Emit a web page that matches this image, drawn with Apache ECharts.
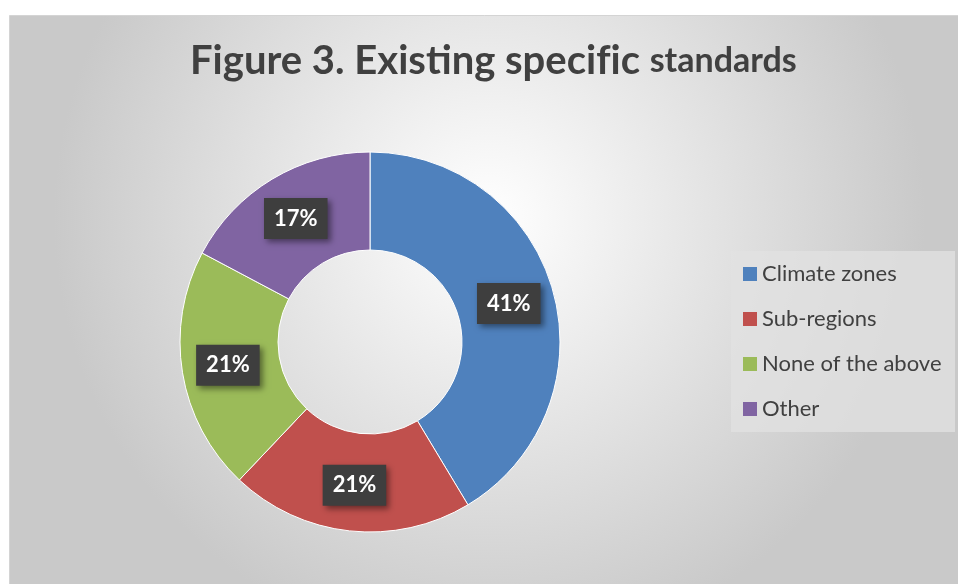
<!DOCTYPE html>
<html>
<head>
<meta charset="utf-8">
<script src="https://cdn.jsdelivr.net/npm/echarts@6/dist/echarts.min.js"></script>
<style>
html,body{margin:0;padding:0;background:#fff;}
#c{width:958px;height:584px;}
</style>
</head>
<body>
<div id="c"></div>
<script>
const categories = ['Climate zones', 'Sub-regions', 'None of the above', 'Other'];
const counts = [12, 6, 6, 5];
const colors = ['#4f81bd', '#c0504d', '#9bbb59', '#8064a2'];
const titleParts = ['Figure 3. Existing speci', 'f', 'ic '];
const titleTail = 'standards';

const chart = echarts.init(document.getElementById('c'));
const FONT = 'Lato, "Open Sans", sans-serif';

chart.setOption({
  animation: false,
  graphic: [
    {
      type: 'rect', z: -10, silent: true,
      shape: {x: 9.5, y: 15.5, width: 960, height: 580},
      style: {
        fill: new echarts.graphic.RadialGradient(0.5, 0.35, 0.75, [
          {offset: 0, color: '#ffffff'},
          {offset: 1, color: '#c9c9c9'}
        ]),
        stroke: '#d4d4d4', lineWidth: 1
      }
    },
    {
      type: 'rect', z: -5, silent: true,
      shape: {x: 731, y: 251, width: 224, height: 181},
      style: {fill: 'rgba(225,225,225,0.75)'}
    },
    {
      type: 'text', left: 190, top: 41, silent: true,
      style: {
        text: '{a|' + titleParts[0] + '}{a|' + titleParts[1] + '}{a|' + titleParts[2] + '}{b|' + titleTail + '}',
        rich: {
          a: {fontSize: 40, fontWeight: 'bold', fill: '#404040', fontFamily: FONT},
          b: {fontSize: 34, fontWeight: 'bold', fill: '#404040', fontFamily: FONT}
        }
      }
    }
  ],
  legend: {
    orient: 'vertical',
    left: 738,
    top: 258,
    itemWidth: 14,
    itemHeight: 14,
    itemGap: 23,
    icon: 'rect',
    itemStyle: {borderWidth: 0},
    textStyle: {fontSize: 22, color: '#404040', fontFamily: FONT},
    data: categories
  },
  series: [{
    type: 'pie',
    center: [370, 342],
    radius: [92, 190],
    startAngle: 90,
    clockwise: true,
    avoidLabelOverlap: false,
    itemStyle: {borderColor: '#ffffff', borderWidth: 1},
    label: {
      position: 'inside',
      formatter: function (p) { return Math.round(p.percent) + '%'; },
      color: '#ffffff',
      fontSize: 22,
      fontWeight: 'bold',
      fontFamily: FONT,
      backgroundColor: '#3e3e3e',
      padding: [10, 10, 9, 10],
      shadowColor: 'rgba(0,0,0,0.45)',
      shadowBlur: 6,
      shadowOffsetX: 3,
      shadowOffsetY: 3
    },
    labelLine: {show: false},
    emphasis: {disabled: true},
    data: categories.map(function (n, i) {
      return {name: n, value: counts[i], itemStyle: {color: colors[i]}};
    })
  }]
});
</script>
</body>
</html>
